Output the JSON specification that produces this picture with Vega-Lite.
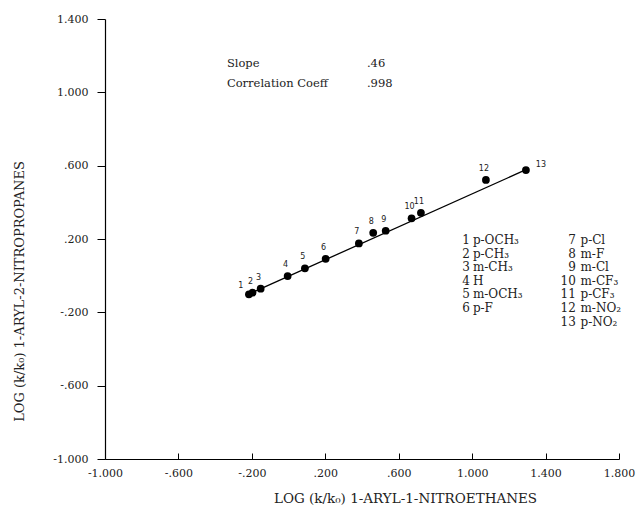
{
  "$schema": "https://vega.github.io/schema/vega-lite/v6.json",
  "width": 514,
  "height": 440,
  "autosize": {"type": "none"},
  "padding": {"left": 105, "top": 19, "right": 21, "bottom": 52},
  "background": "white",
  "config": {"view": {"stroke": null}, "font": "DejaVu Serif"},
  "datasets": {
    "points": [
      {"id": "1", "x": -0.216, "y": -0.102},
      {"id": "2", "x": -0.196, "y": -0.093},
      {"id": "3", "x": -0.152, "y": -0.071},
      {"id": "4", "x": -0.005, "y": -0.002},
      {"id": "5", "x": 0.089, "y": 0.040},
      {"id": "6", "x": 0.202, "y": 0.092},
      {"id": "7", "x": 0.383, "y": 0.176},
      {"id": "8", "x": 0.461, "y": 0.234},
      {"id": "9", "x": 0.529, "y": 0.245},
      {"id": "10", "x": 0.670, "y": 0.313},
      {"id": "11", "x": 0.721, "y": 0.343},
      {"id": "12", "x": 1.075, "y": 0.522},
      {"id": "13", "x": 1.293, "y": 0.576}
    ],
    "fit": [
      {"x": -0.216, "y": -0.100},
      {"x": 1.293, "y": 0.578}
    ],
    "notes": [
      {"x": -0.336, "y": 1.155, "t": "Slope"},
      {"x": 0.427, "y": 1.155, "t": ".46"},
      {"x": -0.336, "y": 1.048, "t": "Correlation Coeff"},
      {"x": 0.427, "y": 1.048, "t": ".998"}
    ],
    "key": [
      {"n": "1", "name": "p-OCH₃", "xn": 0.988, "xs": 1.004, "y": 0.194},
      {"n": "2", "name": "p-CH₃", "xn": 0.988, "xs": 1.004, "y": 0.120},
      {"n": "3", "name": "m-CH₃", "xn": 0.988, "xs": 1.004, "y": 0.046},
      {"n": "4", "name": "H", "xn": 0.988, "xs": 1.004, "y": -0.028},
      {"n": "5", "name": "m-OCH₃", "xn": 0.988, "xs": 1.004, "y": -0.102},
      {"n": "6", "name": "p-F", "xn": 0.988, "xs": 1.004, "y": -0.177},
      {"n": "7", "name": "p-Cl", "xn": 1.565, "xs": 1.590, "y": 0.194},
      {"n": "8", "name": "m-F", "xn": 1.565, "xs": 1.590, "y": 0.120},
      {"n": "9", "name": "m-Cl", "xn": 1.565, "xs": 1.590, "y": 0.046},
      {"n": "10", "name": "m-CF₃", "xn": 1.565, "xs": 1.590, "y": -0.028},
      {"n": "11", "name": "p-CF₃", "xn": 1.565, "xs": 1.590, "y": -0.102},
      {"n": "12", "name": "m-NO₂", "xn": 1.565, "xs": 1.590, "y": -0.177},
      {"n": "13", "name": "p-NO₂", "xn": 1.565, "xs": 1.590, "y": -0.251}
    ]
  },
  "layer": [
    {
      "data": {"name": "fit"},
      "mark": {"type": "line", "color": "black", "strokeWidth": 1.3},
      "encoding": {
        "x": {
          "field": "x", "type": "quantitative",
          "scale": {"domain": [-1, 1.8], "nice": false, "zero": false},
          "axis": {
            "values": [-1, -0.6, -0.2, 0.2, 0.6, 1, 1.4, 1.8],
            "labelExpr": "(datum.value < 0 ? '-' : '') + (abs(datum.value) < 1 ? slice(format(abs(datum.value), '.3f'), 1) : format(abs(datum.value), '.3f'))",
            "grid": false,
            "domainColor": "black", "domainWidth": 1.2,
            "tickColor": "black", "tickSize": -6, "tickWidth": 1,
            "labelFont": "DejaVu Serif", "labelFontSize": 11, "labelColor": "#222",
            "labelPadding": 14, "labelFlush": false, "labelOverlap": false,
            "title": "LOG (k/k₀) 1-ARYL-1-NITROETHANES",
            "titleFont": "DejaVu Serif", "titleFontSize": 13.5, "titleFontWeight": "normal",
            "titleColor": "#222", "titleX": 300, "titleY": 39, "titleBaseline": "middle"
          }
        },
        "y": {
          "field": "y", "type": "quantitative",
          "scale": {"domain": [-1, 1.4], "nice": false, "zero": false},
          "axis": {
            "values": [-1, -0.6, -0.2, 0.2, 0.6, 1, 1.4],
            "labelExpr": "(datum.value < 0 ? '-' : '') + (abs(datum.value) < 1 ? slice(format(abs(datum.value), '.3f'), 1) : format(abs(datum.value), '.3f'))",
            "grid": false,
            "domainColor": "black", "domainWidth": 1.2,
            "tickColor": "black", "tickSize": 8, "tickWidth": 1,
            "labelFont": "DejaVu Serif", "labelFontSize": 11, "labelColor": "#222",
            "labelPadding": 9, "labelFlush": false, "labelOverlap": false,
            "title": "LOG (k/k₀) 1-ARYL-2-NITROPROPANES",
            "titleFont": "DejaVu Serif", "titleFontSize": 13, "titleFontWeight": "normal",
            "titleColor": "#222", "titleX": -86, "titleY": 272, "titleBaseline": "middle"
          }
        }
      }
    },
    {
      "data": {"name": "points"},
      "mark": {"type": "circle", "color": "black", "opacity": 1, "size": 60},
      "encoding": {
        "x": {"field": "x", "type": "quantitative"},
        "y": {"field": "y", "type": "quantitative"}
      }
    },
    {
      "data": {"name": "points"},
      "transform": [{"filter": "datum.id != '13' && datum.id != '1'"}],
      "mark": {"type": "text", "font": "DejaVu Sans", "fontSize": 8, "color": "#222", "dx": -2, "dy": -11, "align": "center", "baseline": "middle"},
      "encoding": {
        "x": {"field": "x", "type": "quantitative"},
        "y": {"field": "y", "type": "quantitative"},
        "text": {"field": "id"}
      }
    },
    {
      "data": {"name": "points"},
      "transform": [{"filter": "datum.id == '1'"}],
      "mark": {"type": "text", "font": "DejaVu Sans", "fontSize": 8, "color": "#222", "dx": -8, "dy": -8, "align": "center", "baseline": "middle"},
      "encoding": {
        "x": {"field": "x", "type": "quantitative"},
        "y": {"field": "y", "type": "quantitative"},
        "text": {"field": "id"}
      }
    },
    {
      "data": {"name": "points"},
      "transform": [{"filter": "datum.id == '13'"}],
      "mark": {"type": "text", "font": "DejaVu Sans", "fontSize": 8, "color": "#222", "dx": 15, "dy": -5, "align": "center", "baseline": "middle"},
      "encoding": {
        "x": {"field": "x", "type": "quantitative"},
        "y": {"field": "y", "type": "quantitative"},
        "text": {"field": "id"}
      }
    },
    {
      "data": {"name": "notes"},
      "mark": {"type": "text", "font": "DejaVu Serif", "fontSize": 11.5, "color": "#222", "align": "left", "baseline": "middle"},
      "encoding": {
        "x": {"field": "x", "type": "quantitative"},
        "y": {"field": "y", "type": "quantitative"},
        "text": {"field": "t"}
      }
    },
    {
      "data": {"name": "key"},
      "mark": {"type": "text", "font": "DejaVu Serif", "fontSize": 12, "color": "#222", "align": "right", "baseline": "middle"},
      "encoding": {
        "x": {"field": "xn", "type": "quantitative"},
        "y": {"field": "y", "type": "quantitative"},
        "text": {"field": "n"}
      }
    },
    {
      "data": {"name": "key"},
      "mark": {"type": "text", "font": "DejaVu Serif", "fontSize": 12, "color": "#222", "align": "left", "baseline": "middle"},
      "encoding": {
        "x": {"field": "xs", "type": "quantitative"},
        "y": {"field": "y", "type": "quantitative"},
        "text": {"field": "name"}
      }
    }
  ]
}
